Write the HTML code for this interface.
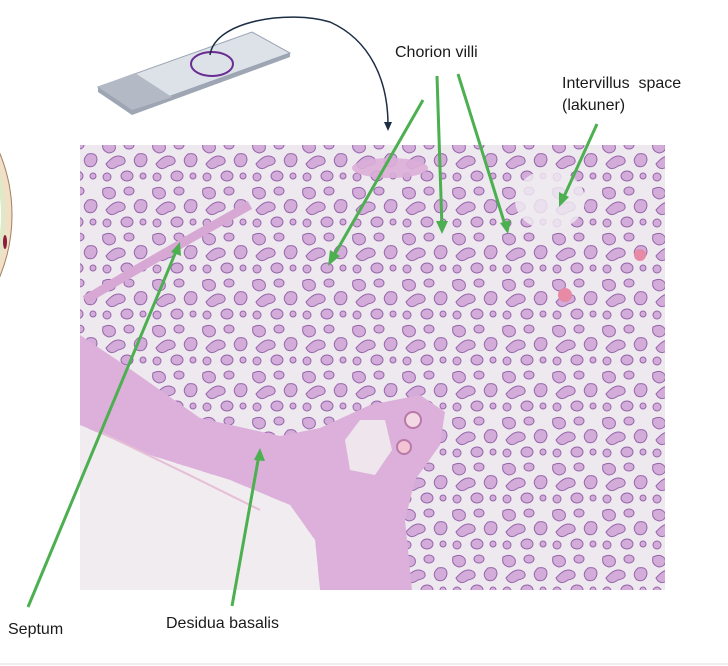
<!DOCTYPE html>
<html><head><meta charset="utf-8"><style>
html,body{margin:0;padding:0;background:#fff;}
svg{display:block;}
text{font-family:"Liberation Sans",Arial,sans-serif;fill:#1a1a1a;}
</style></head><body>
<svg width="728" height="666" viewBox="0 0 728 666" xmlns="http://www.w3.org/2000/svg">
<defs>
<pattern id="villi" width="50" height="46" patternUnits="userSpaceOnUse">
<rect width="50" height="46" fill="#eee8ef"/>
<g fill="#d3acd9" stroke="#9566aa" stroke-width="1">
<path d="M3 5 q8 -4 12 2 q2 7 -6 8 q-8 -2 -6 -10z"/>
<ellipse cx="29" cy="7" rx="5" ry="4"/>
<path d="M38 16 q9 -2 9 6 q-2 9 -10 6 q-6 -6 1 -12z"/>
<path d="M6 26 q10 -12 18 -6 q4 6 -6 8 q-8 6 -12 -2z"/>
<ellipse cx="7" cy="39" rx="4" ry="4"/>
<ellipse cx="27" cy="38" rx="6" ry="5"/>
<ellipse cx="43" cy="38" rx="3" ry="3"/>
</g>
</pattern>
</defs>

<!-- left partial circle -->
<circle cx="-150" cy="215" r="162" fill="#f1dfc6" stroke="#a08060" stroke-width="1"/>
<circle cx="-150" cy="215" r="156" fill="#dfe9c8"/>
<circle cx="-150" cy="215" r="151" fill="#fff"/>
<ellipse cx="5" cy="242" rx="2" ry="7" fill="#8a1d3c"/>

<!-- slide -->
<polygon points="98,87 252,32 290,53 290,57 132,115 98,92" fill="#9ea6b4"/>
<polygon points="98,87 252,32 290,53 132,110" fill="#dde1e8" stroke="#9aa3b3" stroke-width="1"/>
<polygon points="98,87 135,73 172,97 132,110" fill="#b4bac5"/>
<ellipse cx="212" cy="64" rx="21" ry="12" fill="none" stroke="#6a2c91" stroke-width="2"/>
<path d="M210 55 C215 20 290 10 330 22 C370 40 388 80 388 125" fill="none" stroke="#1c2e44" stroke-width="1.5"/>
<polygon points="384,122 392,122 388,131" fill="#1c2e44"/>

<!-- histology -->
<rect x="80" y="145" width="585" height="445" fill="url(#villi)"/>
<!-- septum -->
<path d="M85 300 Q160 255 250 205" stroke="#d8a8d4" stroke-width="9" fill="none"/>
<ellipse cx="550" cy="200" rx="35" ry="30" fill="#efe9f0" opacity="0.85"/>
<ellipse cx="390" cy="168" rx="38" ry="10" fill="#dbaed8" opacity="0.9"/>
<!-- decidua band -->
<polygon points="80,335 120,362 200,418 280,436 320,428 370,405 420,395 445,412 440,445 415,480 405,520 412,590 320,590 315,540 290,505 230,480 150,455 80,425" fill="#dcb0da"/>
<polygon points="345,440 360,420 385,420 392,450 375,475 350,470" fill="#efe5ec"/>
<circle cx="413" cy="420" r="8" fill="#f3d9e4" stroke="#b87aa8" stroke-width="2"/>
<circle cx="404" cy="447" r="7" fill="#f3c4d4" stroke="#b87aa8" stroke-width="2"/>
<!-- pale lower-left -->
<polygon points="80,425 150,455 230,480 290,505 315,540 320,590 80,590" fill="#f0ecef"/>
<path d="M100 432 Q180 470 260 510" stroke="#e6bfd6" stroke-width="2" fill="none"/>
<circle cx="565" cy="295" r="7" fill="#e68aa6"/>
<circle cx="640" cy="255" r="6" fill="#e68aa6"/>

<!-- green arrows -->
<g stroke="#4caf50" stroke-width="3" fill="none">
<line x1="423" y1="100" x2="332" y2="259"/>
<line x1="437" y1="76" x2="442" y2="228"/>
<line x1="458" y1="74" x2="506" y2="228"/>
<line x1="597" y1="124" x2="562" y2="201"/>
<line x1="28" y1="607" x2="177" y2="249"/>
<line x1="232" y1="606" x2="259" y2="455"/>
</g>
<g fill="#4caf50">
<polygon points="328,266 330,250 340,256"/>
<polygon points="442,234 436,221 448,221"/>
<polygon points="508,234 500,223 511,220"/>
<polygon points="559,207 559,192 569,197"/>
<polygon points="180,242 181,256 171,252"/>
<polygon points="260,448 265,461 254,460"/>
</g>

<text x="395" y="57" font-size="16">Chorion villi</text>
<text x="562" y="88" font-size="16" xml:space="preserve">Intervillus  space</text>
<text x="562" y="110" font-size="16">(lakuner)</text>
<text x="8" y="634" font-size="16">Septum</text>
<text x="166" y="628" font-size="16">Desidua basalis</text>
<line x1="0" y1="664" x2="728" y2="664" stroke="#eeeeee" stroke-width="2"/>
</svg>
</body></html>
